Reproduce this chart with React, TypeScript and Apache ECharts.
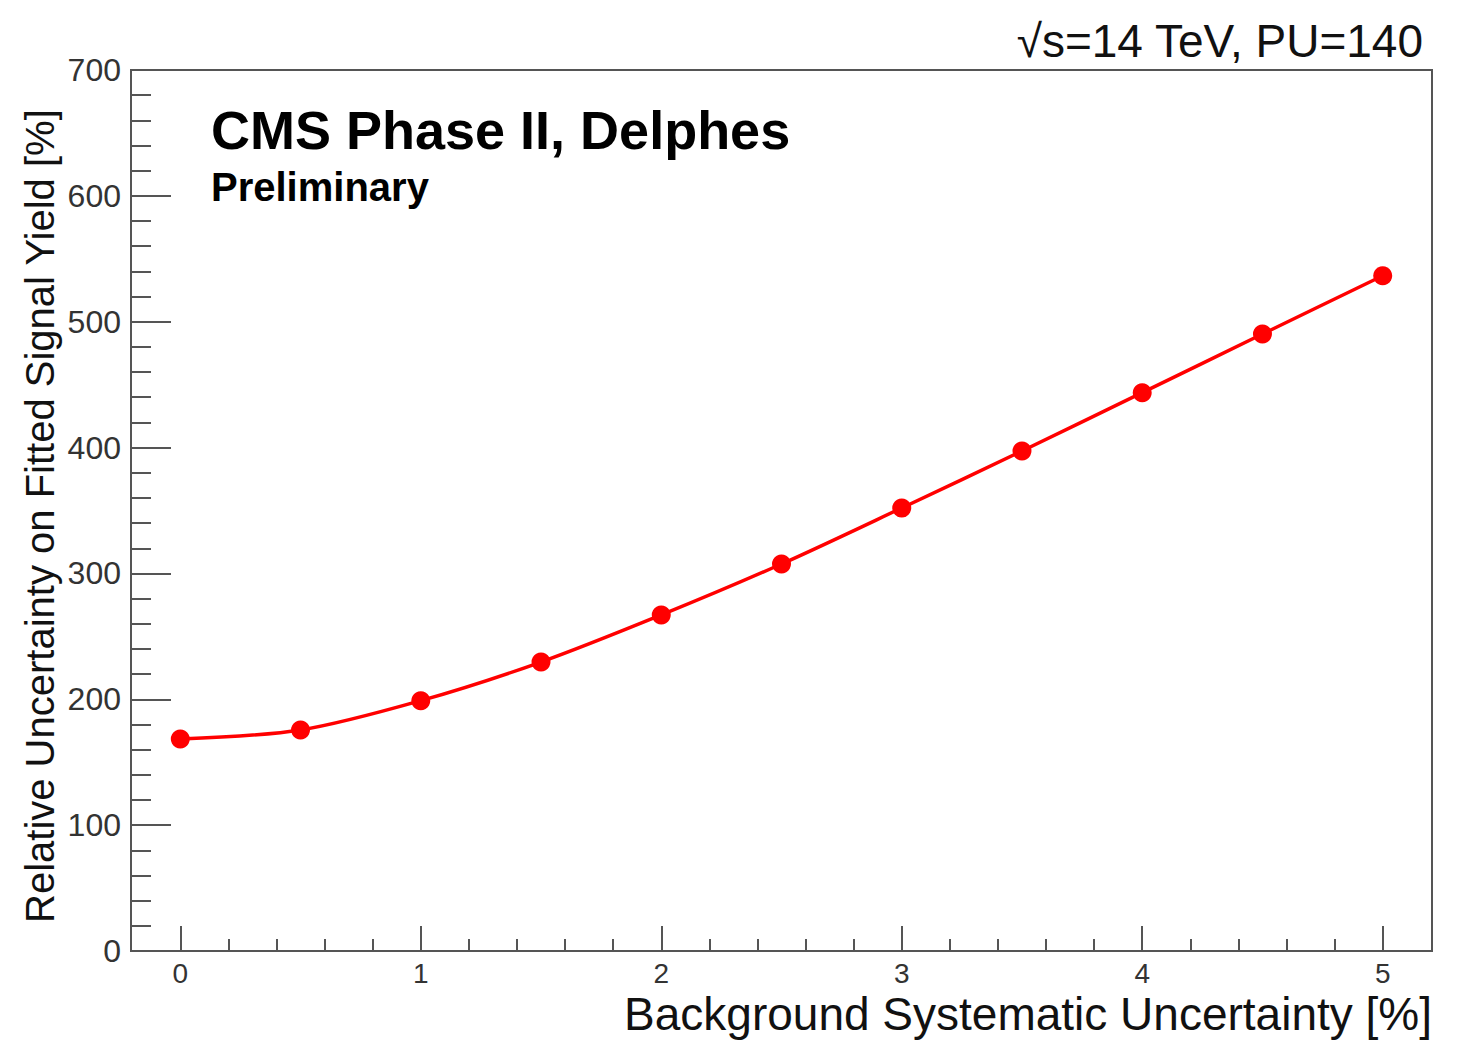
import React, { useEffect, useRef } from "react";
import * as echarts from "echarts";

const xValues = [0, 0.5, 1, 1.5, 2, 2.5, 3, 3.5, 4, 4.5, 5];
const yValues = [168.4, 175.6, 198.9, 229.6, 267, 307.5, 352, 397.3, 443.6, 490.2, 536.5];
const xMajorTicks = [0, 1, 2, 3, 4, 5];
const xMinorTicks = [0.2, 0.4, 0.6, 0.8, 1.2, 1.4, 1.6, 1.8, 2.2, 2.4, 2.6, 2.8, 3.2, 3.4, 3.6, 3.8, 4.2, 4.4, 4.6, 4.8];
const xRange = [-0.205, 5.205];
const yRange = [0, 700];

const FONT = "'Liberation Sans', Arial, Helvetica, sans-serif";
const AXIS_COLOR = "#555";
const TEXT_COLOR = "#333";

export default function App() {
  const ref = useRef<HTMLDivElement>(null);
  useEffect(() => {
    if (!ref.current) return;
    const chart = echarts.init(ref.current, undefined, { renderer: "svg" });
    const grid = { left: 131, right: 26, top: 70, bottom: 90 };
    chart.setOption({
      animation: false,
      backgroundColor: "#fff",
      grid: { ...grid, show: true, borderColor: AXIS_COLOR, borderWidth: 2, backgroundColor: "transparent" },
      xAxis: [
        {
          type: "value",
          min: xRange[0],
          max: xRange[1],
          axisLine: { show: true, onZero: false, lineStyle: { color: AXIS_COLOR, width: 2 } },
          splitLine: { show: false },
          axisTick: {
            show: true,
            inside: true,
            length: 25,
            customValues: xMajorTicks,
            lineStyle: { color: AXIS_COLOR, width: 2 },
          },
          axisLabel: {
            show: true,
            customValues: xMajorTicks,
            margin: 8,
            fontSize: 28,
            fontFamily: FONT,
            color: TEXT_COLOR,
          },
        },
        {
          type: "value",
          position: "bottom",
          min: xRange[0],
          max: xRange[1],
          axisLine: { show: false, onZero: false },
          splitLine: { show: false },
          axisTick: {
            show: true,
            inside: true,
            length: 12,
            customValues: xMinorTicks,
            lineStyle: { color: AXIS_COLOR, width: 2 },
          },
          axisLabel: { show: false },
        },
      ],
      yAxis: {
        type: "value",
        min: yRange[0],
        max: yRange[1],
        interval: 100,
        axisLine: { show: true, onZero: false, lineStyle: { color: AXIS_COLOR, width: 2 } },
        splitLine: { show: false },
        axisTick: { show: true, inside: true, length: 40, lineStyle: { color: AXIS_COLOR, width: 2 } },
        minorTick: { show: true, splitNumber: 5, length: 20, lineStyle: { color: AXIS_COLOR, width: 2 } },
        minorSplitLine: { show: false },
        axisLabel: { margin: 10, fontSize: 32, fontFamily: FONT, color: TEXT_COLOR },
      },
      series: [
        {
          type: "line",
          xAxisIndex: 0,
          data: xValues.map((x, i) => [x, yValues[i]]),
          smooth: 0.3,
          symbol: "circle",
          symbolSize: 19,
          itemStyle: { color: "#ff0000" },
          lineStyle: { color: "#ff0000", width: 3.5 },
        },
      ],
      graphic: [
        {
          type: "text",
          x: 211,
          y: 130,
          style: { text: "CMS Phase II, Delphes", font: `bold 54px ${FONT}`, fill: "#000", verticalAlign: "middle", align: "left" },
        },
        {
          type: "text",
          x: 211,
          y: 187,
          style: { text: "Preliminary", font: `bold 40px ${FONT}`, fill: "#000", verticalAlign: "middle", align: "left" },
        },
        {
          type: "text",
          x: 1423,
          y: 41,
          style: { text: "√s=14 TeV, PU=140", font: `46px ${FONT}`, fill: "#111", verticalAlign: "middle", align: "right" },
        },
        {
          type: "text",
          x: 1432,
          y: 1014,
          style: { text: "Background Systematic Uncertainty [%]", font: `46px ${FONT}`, fill: "#111", verticalAlign: "middle", align: "right" },
        },
        {
          type: "text",
          x: 40,
          y: 923,
          rotation: Math.PI / 2,
          style: { text: "Relative Uncertainty on Fitted Signal Yield [%]", font: `40px ${FONT}`, fill: "#111", verticalAlign: "middle", align: "left" },
        },
      ],
    });
    return () => chart.dispose();
  }, []);
  return <div ref={ref} style={{ width: 1458, height: 1041, position: "absolute", left: 0, top: 0 }} />;
}
